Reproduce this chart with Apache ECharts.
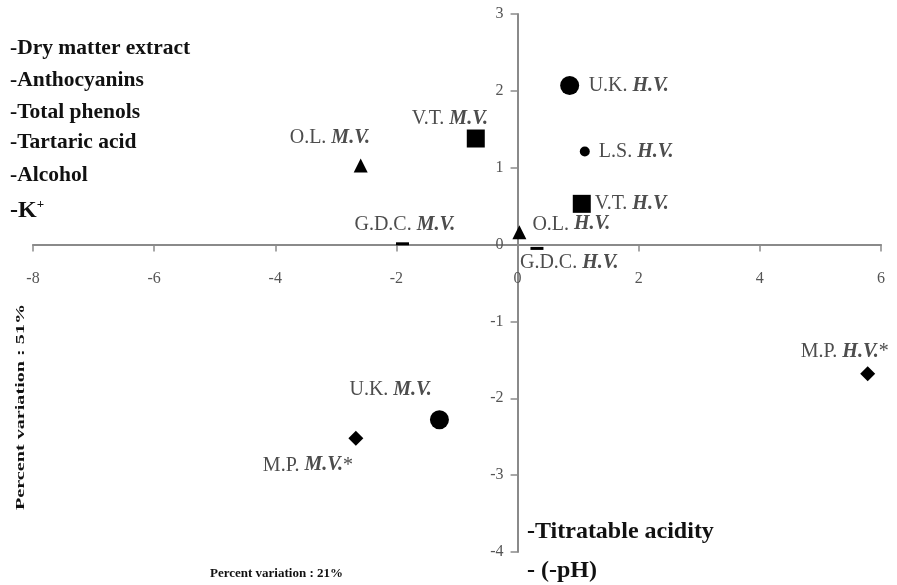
<!DOCTYPE html>
<html style="height: 100%">
   <head>
       <meta charset="utf-8">
   </head>
   <body style="height: 100%; margin: 0; background: #fff">
       <div id="container" style="height: 100%"></div>
       <script type="text/javascript" src="https://cdn.jsdelivr.net/npm/echarts@6/dist/echarts.min.js"></script>
       <script type="text/javascript">

// samples: cultivar + vineyard type, scores on the two components
var cultivars = ['U.K.', 'L.S.', 'V.T.', 'O.L.', 'G.D.C.', 'M.P.', 'U.K.', 'V.T.', 'O.L.', 'G.D.C.', 'M.P.'];
var variety   = ['H.V.', 'H.V.', 'H.V.', 'H.V.', 'H.V.', 'H.V.', 'M.V.', 'M.V.', 'M.V.', 'M.V.', 'M.V.'];
var starred   = [false, false, false, false, false, true, false, false, false, false, true];
var pc1 = [0.86, 1.11, 1.06, 0.03, 0.32, 5.78, -1.29, -0.69, -2.59, -1.90, -2.67];
var pc2 = [2.07, 1.21, 0.53, 0.16, -0.05, -1.68, -2.28, 1.38, 1.03, 0.01, -2.52];

var xTicks = [-8, -6, -4, -2, 0, 2, 4, 6];
var yTicks = [-4, -3, -2, -1, 0, 1, 2, 3];

var upperVars = ['-Dry matter extract', '-Anthocyanins', '-Total phenols', '-Tartaric acid', '-Alcohol'];
var lowerVars = ['-Titratable acidity', '- (-pH)'];

// marker look + label offset for each sample (same order as above)
var looks = [
    {symbol: 'circle', size: 19, off: [19, 0]},
    {symbol: 'circle', size: 10, off: [14, 0]},
    {symbol: 'rect', size: 18, off: [13, 0]},
    {symbol: 'triangle', size: 14, off: [13, -8]},
    {symbol: 'rect', size: [13, 3], off: [-17, 14]},
    {symbol: 'diamond', size: 15, off: [-67, -22]},
    {symbol: 'circle', size: 19, off: [-90, -30]},
    {symbol: 'rect', size: 18, off: [-64, -20]},
    {symbol: 'triangle', size: 14, off: [-71, -28]},
    {symbol: 'rect', size: [13, 3], off: [-48, -19]},
    {symbol: 'diamond', size: 15, off: [-93, 27]}
];

var serif = '"Liberation Serif", "DejaVu Serif", serif';
var labelGray = '#4d4d4d';
var axisGray = '#8a8a8a';

var G = {left: 33, right: 16, top: 14, bottom: 33};
var W = 897, H = 585;

var points = pc1.map(function (x, i) {
    return {
        value: [x, pc2[i]],
        symbol: looks[i].symbol,
        symbolSize: looks[i].size,
        label: {
            show: true,
            position: 'inside',
            align: 'left',
            verticalAlign: 'middle',
            offset: looks[i].off,
            formatter: '{a|' + cultivars[i] + ' }{b|' + variety[i] + '}' + (starred[i] ? '{a|*}' : '')
        }
    };
});

var graphics = [];
upperVars.forEach(function (t, i) {
    graphics.push({
        type: 'text', left: 10, top: [37, 69, 101, 131, 164][i],
        style: {text: t, font: 'bold 21.5px ' + serif, fill: '#111'}
    });
});
graphics.push({
    type: 'text', left: 10, top: 198,
    style: {text: '{k|-K}{s|+}', rich: {
        k: {font: 'bold 24px ' + serif, fill: '#111'},
        s: {font: 'bold 13px ' + serif, fill: '#111', verticalAlign: 'top', padding: [0, 0, 12, 0]}
    }}
});
lowerVars.forEach(function (t, i) {
    graphics.push({
        type: 'text', left: 527, top: [520, 559][i],
        style: {text: t, font: 'bold 24px ' + serif, fill: '#111'}
    });
});
graphics.push({
    type: 'text', x: 210, y: 567,
    style: {text: 'Percent variation : 21%', font: 'bold 13px ' + serif, fill: '#111'}
});
graphics.push({
    type: 'text', x: 14, y: 510, rotation: Math.PI / 2, scaleX: 1.55,
    style: {text: 'Percent variation : 51%', font: 'bold 13px ' + serif, fill: '#111'}
});

// put the axes through the origin (labels and ticks follow the line)
var xMin = xTicks[0], xMax = xTicks[xTicks.length - 1];
var yMin = yTicks[0], yMax = yTicks[yTicks.length - 1];
var plotW = W - G.left - G.right, plotH = H - G.top - G.bottom;
var xAxisShift = -(0 - yMin) / (yMax - yMin) * plotH;
var yAxisShift = -(0 - xMin) / (xMax - xMin) * plotW;

var dom = document.getElementById("container");
var myChart = echarts.init(dom);
var option = {
    backgroundColor: '#fff',
    animation: false,
    grid: G,
    xAxis: {
        type: 'value',
        position: 'bottom',
        offset: xAxisShift,
        min: xMin, max: xMax, interval: 2,
        splitLine: {show: false},
        axisLine: {onZero: false, lineStyle: {color: axisGray, width: 2}},
        axisTick: {length: 7, lineStyle: {color: axisGray, width: 1.5}},
        axisLabel: {margin: 26, color: '#555', fontFamily: serif, fontSize: 16}
    },
    yAxis: {
        type: 'value',
        position: 'left',
        offset: yAxisShift,
        min: yMin, max: yMax, interval: 1,
        splitLine: {show: false},
        axisLine: {onZero: false, lineStyle: {color: axisGray, width: 2}},
        axisTick: {length: 7, lineStyle: {color: axisGray, width: 1.5}},
        axisLabel: {margin: 14, color: '#555', fontFamily: serif, fontSize: 16}
    },
    series: [{
        type: 'scatter',
        data: points,
        itemStyle: {color: '#000', opacity: 1},
        label: {
            rich: {
                a: {fontFamily: serif, fontSize: 20, color: labelGray},
                b: {fontFamily: serif, fontSize: 20, color: labelGray, fontStyle: 'italic', fontWeight: 'bold'}
            }
        },
        emphasis: {disabled: true}
    }],
    graphic: graphics
};
myChart.setOption(option);

window.onresize = function () {
    myChart.resize();
};
       </script>
   </body>
</html>
